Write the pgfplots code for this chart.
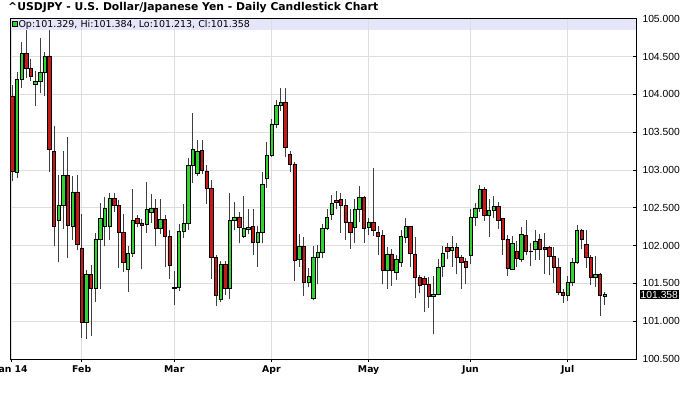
\documentclass[border=0pt]{standalone}
\usepackage{pgfplots}
\pgfplotsset{compat=1.18}
\usepackage{pgfplotstable}
\usepackage{fontspec}
\setmainfont{Liberation Sans}
\newfontfamily\dvs{DejaVu Sans}
\definecolor{cgreen}{RGB}{50,210,50}
\definecolor{cred}{RGB}{200,25,25}
\definecolor{gridc}{RGB}{222,222,222}
\definecolor{bandc}{RGB}{230,230,250}

\pgfplotstableread{
i O H L C
0 103.98 104.13 102.85 102.98
1 102.97 104.29 102.90 104.20
2 104.20 104.69 104.09 104.54
3 104.54 104.85 104.22 104.34
4 104.34 104.47 104.18 104.24
5 104.13 104.31 103.85 104.17
6 104.17 104.74 104.02 104.29
7 104.29 104.56 103.98 104.50
8 104.51 104.85 102.97 103.27
9 103.25 103.58 102.00 102.25
10 102.34 102.94 101.78 102.54
11 102.54 103.25 102.22 102.93
12 102.93 103.43 101.83 102.27
13 102.25 102.92 102.08 102.71
14 102.71 102.94 101.94 102.02
15 101.97 102.42 100.78 100.98
16 100.99 101.68 100.76 101.62
17 101.62 101.75 100.80 101.43
18 101.44 102.17 101.25 102.09
19 102.09 102.57 101.43 102.36
20 102.25 102.64 101.99 102.49
21 102.25 102.70 102.08 102.62
22 102.62 102.69 102.45 102.53
23 102.53 102.60 101.70 102.17
24 102.17 102.42 101.65 101.78
25 101.69 101.99 101.39 101.90
26 101.90 102.75 101.85 102.34
27 102.36 102.40 102.25 102.30
28 102.30 102.35 101.69 102.27
29 102.28 102.84 102.17 102.48
30 102.44 102.68 102.30 102.49
31 102.49 102.61 102.00 102.23
32 102.23 102.61 102.15 102.35
33 102.35 102.40 101.72 102.12
34 102.12 102.20 101.56 101.74
35 101.45 101.66 101.22 101.44
36 101.45 102.28 101.40 102.19
37 102.19 102.55 102.10 102.29
38 102.29 103.16 102.20 103.06
39 103.06 103.76 102.83 103.27
40 102.96 103.40 102.92 103.25
41 103.26 103.40 102.95 103.00
42 102.99 103.07 102.55 102.76
43 102.76 102.87 101.56 101.84
44 101.84 101.87 101.20 101.34
45 101.29 101.80 101.25 101.75
46 101.75 101.80 101.35 101.43
47 101.44 102.69 101.30 102.33
48 102.33 102.58 102.20 102.38
49 102.38 102.45 102.03 102.24
50 102.12 102.65 102.10 102.23
51 102.21 102.48 102.15 102.24
52 102.25 102.48 101.87 102.04
53 102.04 102.26 101.72 102.17
54 102.17 102.97 102.03 102.81
55 102.89 103.37 102.76 103.19
56 103.20 103.68 103.17 103.61
57 103.61 103.93 103.55 103.85
58 103.85 104.08 103.78 103.90
59 103.90 104.09 103.17 103.30
60 103.21 103.25 102.97 103.07
61 103.08 103.10 101.53 101.81
62 101.82 102.16 101.72 101.99
63 101.99 102.12 101.33 101.52
64 101.52 101.70 101.45 101.59
65 101.30 102.00 101.28 101.85
66 101.85 102.01 101.49 101.91
67 101.91 102.29 101.83 102.23
68 102.23 102.48 102.20 102.38
69 102.41 102.67 102.34 102.56
70 102.60 102.72 102.48 102.57
71 102.61 102.69 102.17 102.54
72 102.53 102.61 102.08 102.31
73 102.31 102.48 101.96 102.17
74 102.24 102.62 102.04 102.48
75 102.48 102.79 102.31 102.64
76 102.64 102.66 102.04 102.23
77 102.24 102.37 102.14 102.31
78 102.31 103.02 102.13 102.20
79 102.17 102.26 101.87 102.13
80 102.14 102.20 101.49 101.68
81 101.68 101.98 101.43 101.89
82 101.89 101.96 101.47 101.67
83 101.65 101.87 101.55 101.82
84 101.78 102.20 101.72 102.12
85 102.11 102.37 102.04 102.25
86 102.25 102.26 101.72 101.90
87 101.89 102.11 101.31 101.58
88 101.58 101.61 101.37 101.48
89 101.57 101.60 101.12 101.49
90 101.49 101.58 101.18 101.33
91 101.33 101.60 100.83 101.36
92 101.36 101.82 101.34 101.72
93 101.73 102.00 101.59 101.90
94 101.98 102.04 101.82 101.93
95 101.94 102.13 101.72 101.98
96 101.98 102.04 101.62 101.84
97 101.84 101.87 101.43 101.78
98 101.79 101.83 101.49 101.72
99 101.87 102.48 101.76 102.37
100 102.37 102.56 102.26 102.50
101 102.50 102.80 102.45 102.74
102 102.74 102.77 102.33 102.40
103 102.40 102.61 102.12 102.47
104 102.47 102.65 102.37 102.52
105 102.52 102.58 102.22 102.34
106 102.36 102.37 101.87 102.08
107 102.08 102.14 101.60 101.70
108 101.69 102.13 101.68 102.03
109 101.93 102.06 101.72 101.83
110 101.82 102.24 101.78 102.15
111 102.14 102.34 101.87 101.93
112 101.93 102.04 101.73 101.92
113 101.95 102.20 101.81 102.06
114 102.09 102.15 101.81 101.95
115 101.98 102.17 101.62 101.95
116 101.98 102.00 101.61 101.86
117 101.86 101.98 101.51 101.72
118 101.72 101.84 101.34 101.38
119 101.38 101.43 101.24 101.34
120 101.34 101.60 101.27 101.51
121 101.51 101.84 101.47 101.78
122 101.78 102.27 101.76 102.20
123 102.20 102.22 101.95 102.08
124 102.02 102.21 101.71 101.84
125 101.84 101.87 101.48 101.58
126 101.58 101.86 101.45 101.62
127 101.62 101.64 101.07 101.34
128 101.329 101.384 101.213 101.358
}\candles

\begin{document}
\begin{tikzpicture}[x=1pt,y=1pt]
\fill[bandc] (11.2,368.5) rectangle (635.5,379.7);
\begin{axis}[
  at={(10.7pt,40pt)}, anchor=south west, scale only axis,
  width=625.3pt, height=340.2pt,
  xmin=-0.346, xmax=134.77, ymin=100.5, ymax=105, enlargelimits=false,
  axis line style={line width=0.8pt, black},
  xtick={-0.2,15,35,56,77,99,120},
  xticklabels={Jan 14,Feb,Mar,Apr,May,Jun,Jul},
  ytick={100.5,101,101.5,102,102.5,103,103.5,104,104.5,105},
  yticklabels={100.500,101.000,101.500,102.000,102.500,103.000,103.500,104.000,104.500,105.000},
  xtick pos=bottom, ytick pos=right, yticklabel pos=right,
  tick align=outside, major tick length=3pt,
  tick style={black, line width=0.6pt},
  ytick style={xshift=-3.5pt},
  grid=major, grid style={gridc, line width=0.8pt},
  xticklabel style={font=\dvs\bfseries\fontsize{9.3}{10}\selectfont},
  yticklabel style={font=\fontsize{10.3}{11}\selectfont},
]
\addplot[only marks, mark size=0pt, mark options={draw=none, fill=none}, forget plot,
  error bars/.cd, y dir=plus, y explicit, error mark=none,
  error bar style={line width=0.8pt, color=black!75}]
  table[x=i, y=L, y error expr=\thisrow{H}-\thisrow{L}] {\candles};
\end{axis}
\begin{axis}[
  at={(10.7pt,40pt)}, anchor=south west, scale only axis,
  width=625.3pt, height=340.2pt,
  xmin=-0.346, xmax=134.77, ymin=100.5, ymax=105, enlargelimits=false,
  hide axis, ybar stacked, bar width=3.4pt,
]
\addplot[draw=none, fill=none] table[x=i, y expr={min(\thisrow{O},\thisrow{C})}] {\candles};
\addplot[fill=cgreen, draw=black, line width=0.5pt] table[x=i, y expr={max(\thisrow{C}-\thisrow{O},0)}] {\candles};
\addplot[fill=cred, draw=black, line width=0.5pt] table[x=i, y expr={max(\thisrow{O}-\thisrow{C},0)}] {\candles};
\end{axis}
\node[anchor=west, inner sep=0pt, font=\dvs\bfseries\fontsize{10.8}{12}\selectfont] at (8,391.5) {\textasciicircum USDJPY - U.S. Dollar/Japanese Yen - Daily Candlestick Chart};
\filldraw[fill=cgreen, draw=black, line width=0.5pt] (12.5,373) rectangle (16.8,377.3);
\node[anchor=west, inner sep=0pt, font=\dvs\fontsize{9.5}{10}\selectfont] at (18.3,374.4) {Op:101.329, Hi:101.384, Lo:101.213, Cl:101.358};
\node[anchor=west, fill=black, text=white, inner sep=1.2pt, font=\fontsize{10.3}{11}\selectfont] at (639.3,104.4) {101.358};
\pgfresetboundingbox
\path[use as bounding box] (0,0) rectangle (680,399);
\end{tikzpicture}
\end{document}
